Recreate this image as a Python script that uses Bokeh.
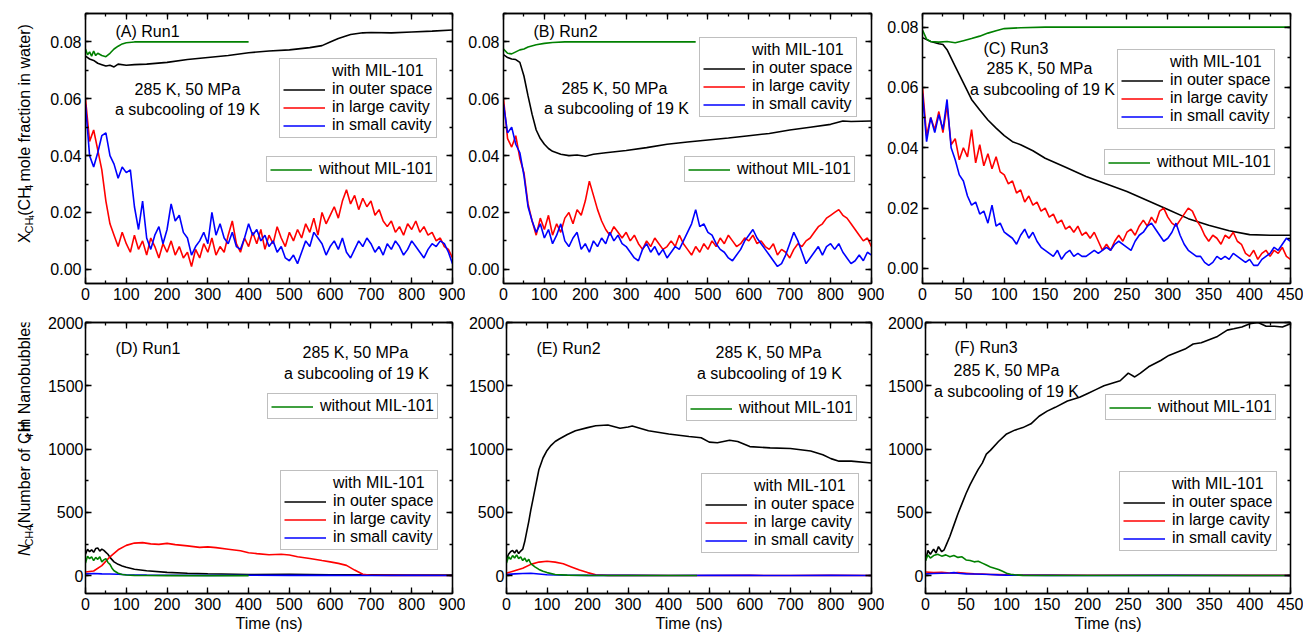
import math
from bokeh.plotting import figure
from bokeh.models import (Range1d, LinearAxis, SingleIntervalTicker, Legend, LegendItem,
                          Label, PrintfTickFormatter, CustomJSTickFormatter)
from bokeh.core.properties import value
from bokeh.layouts import row, column
from bokeh.embed import file_html
from bokeh.resources import INLINE

FONT = "Liberation Sans"
FS = "16px"
BLACK, RED, BLUE, GREEN = "#000000", "#ff0000", "#0000ff", "#008000"
LW = 1.6

# ---------------- data: top row, CH4 mole fraction in water ----------------
t10_900 = list(range(0, 901, 10))
t5_450 = list(range(0, 451, 5))

a_red = [0.060, 0.045, 0.049, 0.042, 0.035, 0.024, 0.016, 0.012, 0.008, 0.013,
         0.009, 0.006, 0.012, 0.007, 0.010, 0.005, 0.011, 0.008, 0.004, 0.009,
         0.006, 0.010, 0.005, 0.008, 0.004, 0.006, 0.001, 0.007, 0.004, 0.009,
         0.006, 0.011, 0.005, 0.008, 0.006, 0.012, 0.017, 0.009, 0.006, 0.011,
         0.008, 0.013, 0.009, 0.014, 0.007, 0.012, 0.009, 0.015, 0.011, 0.008,
         0.013, 0.010, 0.014, 0.011, 0.016, 0.013, 0.018, 0.012, 0.020, 0.016,
         0.019, 0.022, 0.018, 0.024, 0.028, 0.023, 0.026, 0.021, 0.025, 0.022,
         0.024, 0.019, 0.021, 0.017, 0.015, 0.017, 0.013, 0.015, 0.012, 0.016,
         0.014, 0.017, 0.013, 0.015, 0.012, 0.013, 0.010, 0.011, 0.008, 0.007,
         0.004]
a_blue = [0.058, 0.040, 0.036, 0.041, 0.047, 0.048, 0.040, 0.037, 0.032, 0.036,
          0.034, 0.035, 0.022, 0.014, 0.024, 0.011, 0.007, 0.012, 0.015, 0.009,
          0.014, 0.023, 0.017, 0.019, 0.013, 0.011, 0.005, 0.008, 0.010, 0.013,
          0.009, 0.020, 0.012, 0.016, 0.011, 0.009, 0.013, 0.008, 0.007, 0.011,
          0.016, 0.012, 0.014, 0.010, 0.012, 0.008, 0.010, 0.006, 0.008, 0.004,
          0.003, 0.005, 0.002, 0.006, 0.010, 0.008, 0.013, 0.011, 0.009, 0.005,
          0.008, 0.010, 0.007, 0.011, 0.006, 0.004, 0.007, 0.010, 0.008, 0.011,
          0.009, 0.006, 0.008, 0.005, 0.009, 0.007, 0.010, 0.008, 0.005, 0.007,
          0.010, 0.008, 0.006, 0.004, 0.007, 0.009, 0.008, 0.010, 0.009, 0.006,
          0.002]
a_black_t = [0, 10, 20, 30, 40, 50, 60, 70, 80, 100, 120, 150, 200, 250, 300, 350,
             400, 450, 500, 550, 580, 600, 620, 650, 680, 700, 750, 800, 850, 900]
a_black = [0.0750, 0.0740, 0.0735, 0.0725, 0.0720, 0.0715, 0.0718, 0.0712, 0.0722,
           0.0718, 0.0720, 0.0722, 0.0728, 0.0738, 0.0745, 0.0752, 0.0762, 0.0768,
           0.0772, 0.0780, 0.0787, 0.0800, 0.0812, 0.0826, 0.0832, 0.0833, 0.0832,
           0.0835, 0.0838, 0.0842]
a_green_t = [0, 5, 10, 15, 20, 25, 30, 40, 50, 60, 70, 80, 90, 100, 120, 150, 200,
             250, 300, 350, 400]
a_green = [0.0775, 0.0755, 0.0765, 0.0750, 0.0768, 0.0752, 0.0760, 0.0752, 0.0748,
           0.0760, 0.0775, 0.0785, 0.0793, 0.0797, 0.0800, 0.0800, 0.0800, 0.0800,
           0.0800, 0.0800, 0.0800]

b_red = [0.060, 0.046, 0.043, 0.047, 0.039, 0.034, 0.023, 0.017, 0.012, 0.018,
         0.014, 0.019, 0.012, 0.016, 0.013, 0.018, 0.020, 0.016, 0.021, 0.019,
         0.024, 0.031, 0.026, 0.021, 0.017, 0.014, 0.012, 0.015, 0.013, 0.011,
         0.013, 0.010, 0.012, 0.009, 0.007, 0.010, 0.008, 0.011, 0.009, 0.007,
         0.008, 0.010, 0.008, 0.012, 0.009, 0.007, 0.005, 0.008, 0.006, 0.009,
         0.007, 0.010, 0.008, 0.011, 0.009, 0.012, 0.010, 0.008, 0.009, 0.011,
         0.010, 0.012, 0.009, 0.010, 0.008, 0.007, 0.009, 0.005, 0.007, 0.006,
         0.004, 0.007, 0.009, 0.008, 0.010, 0.011, 0.013, 0.015, 0.016, 0.018,
         0.019, 0.020, 0.021, 0.019, 0.018, 0.016, 0.014, 0.012, 0.010, 0.011,
         0.008]
b_blue = [0.058, 0.048, 0.050, 0.044, 0.041, 0.033, 0.022, 0.017, 0.013, 0.016,
          0.011, 0.014, 0.009, 0.012, 0.016, 0.010, 0.008, 0.011, 0.013, 0.007,
          0.009, 0.006, 0.010, 0.008, 0.011, 0.009, 0.013, 0.010, 0.012, 0.009,
          0.008, 0.006, 0.004, 0.003, 0.007, 0.009, 0.006, 0.008, 0.005, 0.007,
          0.004, 0.006, 0.008, 0.007, 0.010, 0.013, 0.016, 0.021, 0.015, 0.016,
          0.013, 0.012, 0.009, 0.007, 0.006, 0.004, 0.003, 0.005, 0.007, 0.010,
          0.012, 0.014, 0.011, 0.009, 0.007, 0.005, 0.003, 0.001, 0.002, 0.005,
          0.009, 0.013, 0.010, 0.006, 0.002, 0.004, 0.006, 0.008, 0.005, 0.008,
          0.009, 0.007, 0.009, 0.006, 0.004, 0.002, 0.003, 0.005, 0.003, 0.006,
          0.005]
b_black_t = [0, 10, 20, 30, 40, 50, 60, 70, 80, 90, 100, 110, 120, 140, 160, 180,
             200, 220, 250, 300, 350, 400, 450, 500, 550, 600, 650, 700, 750, 800,
             830, 850, 900]
b_black = [0.0755, 0.0745, 0.0740, 0.0738, 0.0728, 0.0680, 0.0610, 0.0545, 0.0490,
           0.0460, 0.0440, 0.0425, 0.0415, 0.0405, 0.0400, 0.0402, 0.0398, 0.0405,
           0.0410, 0.0418, 0.0428, 0.0440, 0.0448, 0.0455, 0.0462, 0.0470, 0.0478,
           0.0490, 0.0500, 0.0510, 0.0522, 0.0520, 0.0522]
b_green_t = [0, 10, 20, 30, 40, 50, 60, 80, 100, 120, 150, 200, 250, 300, 350, 400, 470]
b_green = [0.0775, 0.0760, 0.0758, 0.0765, 0.0772, 0.0775, 0.0782, 0.0790, 0.0795,
           0.0798, 0.0800, 0.0800, 0.0800, 0.0800, 0.0800, 0.0800, 0.0800]

c_red = [0.060, 0.044, 0.050, 0.046, 0.052, 0.045, 0.054, 0.041, 0.043, 0.036,
         0.040, 0.037, 0.046, 0.035, 0.041, 0.034, 0.038, 0.033, 0.037, 0.032,
         0.031, 0.028, 0.029, 0.025, 0.026, 0.022, 0.024, 0.021, 0.022, 0.019,
         0.020, 0.017, 0.018, 0.015, 0.016, 0.013, 0.014, 0.012, 0.014, 0.011,
         0.012, 0.010, 0.012, 0.009, 0.006, 0.008, 0.006, 0.009, 0.011, 0.009,
         0.012, 0.013, 0.011, 0.014, 0.016, 0.014, 0.017, 0.015, 0.019, 0.020,
         0.017, 0.015, 0.014, 0.016, 0.018, 0.020, 0.019, 0.016, 0.014, 0.011,
         0.009, 0.011, 0.010, 0.008, 0.011, 0.010, 0.012, 0.009, 0.008, 0.005,
         0.004, 0.006, 0.003, 0.005, 0.006, 0.004, 0.006, 0.005, 0.007, 0.004,
         0.003]
c_blue = [0.058, 0.042, 0.050, 0.045, 0.051, 0.046, 0.056, 0.040, 0.036, 0.031,
          0.029, 0.024, 0.021, 0.022, 0.018, 0.019, 0.015, 0.021, 0.014, 0.015,
          0.012, 0.011, 0.010, 0.008, 0.011, 0.013, 0.010, 0.012, 0.009, 0.007,
          0.006, 0.005, 0.004, 0.006, 0.003, 0.005, 0.006, 0.004, 0.005, 0.004,
          0.004, 0.005, 0.006, 0.005, 0.006, 0.007, 0.006, 0.008, 0.009, 0.008,
          0.007, 0.006, 0.009, 0.011, 0.012, 0.014, 0.015, 0.013, 0.011, 0.009,
          0.010, 0.012, 0.015, 0.011, 0.008, 0.006, 0.005, 0.004, 0.004, 0.002,
          0.001, 0.002, 0.004, 0.003, 0.004, 0.003, 0.005, 0.004, 0.003, 0.002,
          0.003, 0.001, 0.001, 0.003, 0.004, 0.005, 0.007, 0.006, 0.008, 0.010,
          0.009]
c_black_t = [0, 10, 20, 25, 30, 40, 50, 60, 70, 80, 90, 100, 110, 120, 135, 150, 175,
             200, 225, 250, 275, 300, 325, 350, 375, 400, 425, 450]
c_black = [0.0765, 0.0752, 0.0745, 0.0742, 0.0725, 0.0670, 0.0615, 0.0560, 0.0525,
           0.0492, 0.0465, 0.0440, 0.0420, 0.0410, 0.0390, 0.0365, 0.0335, 0.0305,
           0.0280, 0.0255, 0.0225, 0.0195, 0.0165, 0.0143, 0.0125, 0.0112, 0.0110,
           0.0110]
c_green_t = [0, 5, 10, 20, 30, 40, 50, 60, 70, 80, 90, 100, 120, 150, 200, 250, 300,
             350, 400, 450]
c_green = [0.0790, 0.0760, 0.0752, 0.0750, 0.0752, 0.0748, 0.0755, 0.0762, 0.0770,
           0.0780, 0.0788, 0.0795, 0.0798, 0.0800, 0.0800, 0.0800, 0.0800, 0.0800,
           0.0800, 0.0800]

# ---------------- data: bottom row, number of CH4 in nanobubbles ----------------
d_black_t = [0, 5, 10, 15, 20, 25, 30, 35, 40, 45, 50, 55, 60, 70, 80, 90, 100, 120,
             150, 200, 250, 300, 400, 500, 600, 700, 800, 900]
d_black = [170, 210, 190, 205, 185, 215, 220, 195, 210, 200, 185, 170, 145, 110, 90,
           78, 68, 52, 40, 27, 20, 16, 10, 12, 8, 7, 6, 5]
d_red_t = [0, 20, 40, 60, 80, 100, 120, 140, 160, 180, 200, 220, 250, 280, 300, 320,
           350, 380, 400, 420, 450, 480, 500, 520, 550, 580, 600, 620, 640, 660, 680,
           700, 750, 800, 900]
d_red = [30, 38, 80, 150, 205, 240, 258, 262, 252, 248, 256, 246, 236, 224, 228, 222,
         210, 198, 182, 175, 166, 170, 164, 150, 136, 120, 110, 98, 82, 45, 12, 4, 3,
         3, 2]
d_green_t = [0, 5, 10, 15, 20, 25, 30, 35, 40, 45, 50, 55, 60, 65, 70, 80, 90, 100,
             120, 150, 200, 300, 400]
d_green = [100, 155, 135, 150, 120, 145, 130, 150, 110, 125, 135, 105, 90, 60, 40, 20,
           10, 6, 3, 2, 1, 1, 1]
d_blue_t = [0, 20, 40, 60, 80, 100, 150, 200, 300, 400, 500, 600, 700, 800, 900]
d_blue = [15, 18, 15, 14, 12, 8, 5, 4, 3, 4, 3, 3, 2, 3, 2]

e_black_t = [0, 5, 10, 15, 20, 25, 30, 35, 40, 45, 50, 55, 60, 65, 70, 75, 80, 90,
             100, 110, 120, 130, 150, 170, 200, 220, 250, 280, 300, 310, 350, 400,
             450, 480, 500, 520, 550, 570, 600, 650, 700, 750, 780, 800, 820, 850, 900]
e_black = [130, 170, 190, 200, 180, 205, 175, 195, 210, 270, 350, 430, 520, 600, 680,
           760, 840, 930, 990, 1030, 1060, 1080, 1115, 1145, 1170, 1185, 1190, 1165,
           1175, 1182, 1145, 1120, 1100, 1090, 1055, 1050, 1070, 1060, 1020, 1010,
           1005, 985, 955, 925, 905, 905, 890]
e_red_t = [0, 20, 40, 60, 80, 100, 120, 140, 160, 180, 200, 220, 250, 300, 400, 500,
           600, 700, 800, 900]
e_red = [20, 40, 60, 90, 108, 115, 108, 95, 70, 45, 25, 8, 3, 3, 2, 2, 3, 2, 3, 2]
e_green_t = [0, 5, 10, 15, 20, 25, 30, 35, 40, 45, 50, 55, 60, 70, 80, 90, 100, 120,
             150, 200, 300, 400, 470]
e_green = [100, 150, 130, 160, 140, 165, 135, 150, 120, 140, 110, 130, 95, 70, 50, 35,
           25, 10, 5, 3, 2, 2, 2]
e_blue_t = [0, 20, 40, 60, 80, 100, 150, 200, 300, 400, 500, 600, 700, 800, 900]
e_blue = [10, 15, 18, 20, 14, 8, 4, 3, 3, 2, 4, 3, 2, 3, 2]

f_black_t = [0, 3, 6, 10, 13, 16, 20, 23, 26, 30, 35, 40, 45, 50, 55, 60, 65, 70, 75,
             80, 90, 100, 110, 120, 130, 140, 150, 160, 175, 190, 200, 210, 220, 240,
             250, 258, 265, 275, 290, 300, 320, 330, 340, 360, 372, 380, 390, 400,
             410, 420, 430, 440, 450]
f_black = [120, 200, 170, 210, 180, 230, 190, 205, 250, 310, 400, 490, 570, 650, 720,
           780, 840, 890, 960, 990, 1060, 1120, 1150, 1170, 1200, 1260, 1300, 1330,
           1380, 1410, 1440, 1470, 1500, 1540, 1600, 1570, 1600, 1650, 1700, 1740,
           1790, 1830, 1840, 1890, 1940, 1950, 1965, 1990, 2000, 1970, 1970, 1965,
           1990]
f_green_t = [0, 3, 6, 10, 15, 20, 25, 30, 35, 40, 45, 50, 55, 60, 65, 70, 75, 80, 85,
             90, 95, 100, 105, 110, 120, 150, 200, 300, 450]
f_green = [120, 165, 140, 160, 170, 155, 165, 150, 160, 145, 150, 125, 120, 110, 115,
           100, 85, 70, 60, 50, 35, 20, 12, 8, 3, 2, 2, 2, 2]
f_red_t = [0, 10, 20, 30, 40, 50, 60, 70, 80, 90, 100, 110, 150, 200, 300, 400, 450]
f_red = [30, 25, 28, 22, 25, 20, 15, 14, 10, 9, 8, 6, 5, 4, 4, 3, 3]
f_blue_t = [0, 10, 20, 30, 35, 40, 50, 60, 70, 80, 90, 100, 150, 200, 300, 400, 450]
f_blue = [15, 18, 20, 22, 25, 20, 15, 14, 12, 10, 7, 5, 3, 2, 3, 2, 2]

panel_titles = ["(A) Run1", "(B) Run2", "(C) Run3", "(D) Run1", "(E) Run2", "(F) Run3"]
cond1 = "285 K, 50 MPa"
cond2 = "a subcooling of 19 K"
leg_head = "with MIL-101"
leg_labels = ["in outer space", "in large cavity", "in small cavity"]
leg_without = "without MIL-101"

# ---------------- helpers ----------------
AW = {' ': 278, '(': 333, ')': 333, '-': 333, '0': 556, '1': 556, '4': 556, 'C': 722,
      'H': 722, 'N': 722, 'X': 667, 'a': 556, 'b': 556, 'c': 500, 'e': 556, 'f': 278,
      'i': 222, 'l': 222, 'm': 833, 'n': 556, 'o': 556, 'r': 333, 's': 500, 't': 278,
      'u': 556, 'w': 722}


def tw(s, size):
    return sum(AW.get(ch, 556) for ch in s) * size / 1000.0


def style_axis(ax, ticker, fmt=None, label=None, standoff=4):
    ax.ticker = ticker
    ax.major_tick_in = 6
    ax.major_tick_out = 0
    ax.minor_tick_in = 3
    ax.minor_tick_out = 0
    ax.axis_line_width = 1.3
    ax.major_tick_line_width = 1.3
    ax.minor_tick_line_width = 1.3
    ax.axis_line_color = "black"
    ax.major_tick_line_color = "black"
    ax.minor_tick_line_color = "black"
    if fmt is not None:
        ax.formatter = fmt
        ax.major_label_text_font = FONT
        ax.major_label_text_font_size = FS
        ax.major_label_text_color = "black"
        ax.major_label_standoff = standoff
    else:
        ax.formatter = CustomJSTickFormatter(code="return ''")
        ax.major_label_text_font_size = "0px"
        ax.major_label_standoff = 0
    if label:
        ax.axis_label = label
        ax.axis_label_text_font = FONT
        ax.axis_label_text_font_size = FS
        ax.axis_label_text_font_style = "normal"
        ax.axis_label_text_color = "black"
        ax.axis_label_standoff = 2


def make_fig(width, height, bl, br, bt, bb, xr, yr, xint, yint, yfmt, xlabel=None,
             ystand=4):
    p = figure(width=width, height=height, x_range=Range1d(*xr), y_range=Range1d(*yr),
               output_backend="svg", toolbar_location=None,
               min_border_left=bl, min_border_right=br, min_border_top=bt,
               min_border_bottom=bb)
    p.xgrid.visible = False
    p.ygrid.visible = False
    p.outline_line_color = "black"
    p.outline_line_width = 1.3
    p.background_fill_color = "white"
    p.border_fill_color = "white"
    xt = SingleIntervalTicker(interval=xint, num_minor_ticks=2)
    yt = SingleIntervalTicker(interval=yint, num_minor_ticks=2)
    style_axis(p.below[0], xt, PrintfTickFormatter(format="%d"), xlabel)
    style_axis(p.left[0], yt, PrintfTickFormatter(format=yfmt), standoff=ystand)
    top = LinearAxis()
    style_axis(top, xt)
    right = LinearAxis()
    style_axis(right, yt)
    p.add_layout(top, "above")
    p.add_layout(right, "right")
    return p


def add_lines(p, series):
    rs = {}
    for key, xs, ys, col in series:
        rs[key] = p.line(xs, ys, line_color=col, line_width=LW)
    return rs


def add_text(p, text, x, y, align):
    p.add_layout(Label(x=x, y=y, x_units="screen", y_units="screen", text=text,
                       text_align=align, text_baseline="middle", text_font=FONT,
                       text_font_size=FS, text_color="black"))


LEG_KW = dict(padding=3, spacing=0, margin=0, glyph_width=42, glyph_height=17,
              label_height=17, label_standoff=7, label_text_font=FONT,
              label_text_font_size=FS, label_text_color="black",
              border_line_color="#808080", border_line_width=1,
              background_fill_color="white", background_fill_alpha=1.0)


def add_legends(p, rs, loc_with, loc_without):
    dummy = p.line([], [], line_alpha=0)
    items = [LegendItem(label=leg_head, renderers=[dummy]),
             LegendItem(label=leg_labels[0], renderers=[rs["k"]]),
             LegendItem(label=leg_labels[1], renderers=[rs["r"]]),
             LegendItem(label=leg_labels[2], renderers=[rs["b"]])]
    p.add_layout(Legend(items=items, location=loc_with, **LEG_KW))
    p.add_layout(Legend(items=[LegendItem(label=leg_without, renderers=[rs["g"]])],
                        location=loc_without, **LEG_KW))


def label_fig(height, pieces, x0, yc, width):
    q = figure(width=width, height=height, x_range=Range1d(0, width),
               y_range=Range1d(0, height), output_backend="svg", toolbar_location=None,
               x_axis_type=None, y_axis_type=None, min_border=0)
    q.xgrid.visible = False
    q.ygrid.visible = False
    q.outline_line_color = None
    q.background_fill_color = "white"
    q.border_fill_color = "white"
    total = sum(tw(t, s) for t, s, _, _ in pieces)
    y = yc - total / 2.0
    for t, s, dx, it in pieces:
        lead = tw(" ", s) if t.startswith(" ") else 0
        q.text(x=[x0 + dx], y=[y + lead], text=[t.lstrip(" ")], angle=math.pi / 2,
               text_align="left", text_baseline="alphabetic",
               text_font=value(FONT), text_font_size=value(f"{s}px"),
               text_color="black", text_font_style="italic" if it else "normal")
        y += tw(t, s)
    return q


# ---------------- layout ----------------
TOP_H, BOT_H = 308, 329
LBL_W = 40
YR_TOP = (-0.005, 0.09)
YR_TOPC = (-0.005, 0.0845)
YR_BOT = (-140, 2000)

pA = make_fig(425, TOP_H, 45, 13, 13, 25, (0, 900), YR_TOP, 100, 0.02, "%.2f")
pB = make_fig(419, TOP_H, 38, 13, 13, 25, (0, 900), YR_TOP, 100, 0.02, "%.2f")
pC = make_fig(419, TOP_H, 38, 13, 13, 25, (0, 450), YR_TOPC, 50, 0.02, "%.2f")
pD = make_fig(425, BOT_H, 45, 13, 14, 44, (0, 900), YR_BOT, 100, 500, "%d", "Time (ns)", 2)
pE = make_fig(419, BOT_H, 38, 13, 14, 44, (0, 900), YR_BOT, 100, 500, "%d", "Time (ns)", 2)
pF = make_fig(419, BOT_H, 38, 13, 14, 44, (0, 450), YR_BOT, 50, 500, "%d", "Time (ns)", 2)

rA = add_lines(pA, [("k", a_black_t, a_black, BLACK), ("r", t10_900, a_red, RED),
                    ("b", t10_900, a_blue, BLUE), ("g", a_green_t, a_green, GREEN)])
rB = add_lines(pB, [("k", b_black_t, b_black, BLACK), ("r", t10_900, b_red, RED),
                    ("b", t10_900, b_blue, BLUE), ("g", b_green_t, b_green, GREEN)])
rC = add_lines(pC, [("k", c_black_t, c_black, BLACK), ("r", t5_450, c_red, RED),
                    ("b", t5_450, c_blue, BLUE), ("g", c_green_t, c_green, GREEN)])
rD = add_lines(pD, [("k", d_black_t, d_black, BLACK), ("r", d_red_t, d_red, RED),
                    ("b", d_blue_t, d_blue, BLUE), ("g", d_green_t, d_green, GREEN)])
rE = add_lines(pE, [("k", e_black_t, e_black, BLACK), ("r", e_red_t, e_red, RED),
                    ("b", e_blue_t, e_blue, BLUE), ("g", e_green_t, e_green, GREEN)])
rF = add_lines(pF, [("k", f_black_t, f_black, BLACK), ("r", f_red_t, f_red, RED),
                    ("b", f_blue_t, f_blue, BLUE), ("g", f_green_t, f_green, GREEN)])

add_text(pA, panel_titles[0], 30, 252, "left")
add_text(pA, cond1, 102, 194, "center")
add_text(pA, cond2, 102, 174, "center")
add_text(pB, panel_titles[1], 30, 252, "left")
add_text(pB, cond1, 111, 195, "center")
add_text(pB, cond2, 113, 175, "center")
add_text(pC, panel_titles[2], 61, 235, "left")
add_text(pC, cond1, 117, 215, "center")
add_text(pC, cond2, 120, 194, "center")
add_text(pD, panel_titles[3], 30, 245, "left")
add_text(pD, cond1, 270, 241, "center")
add_text(pD, cond2, 271, 220, "center")
add_text(pE, panel_titles[4], 30, 245, "left")
add_text(pE, cond1, 262, 241, "center")
add_text(pE, cond2, 263, 220, "center")
add_text(pF, panel_titles[5], 29, 246, "left")
add_text(pF, cond1, 81, 223, "center")
add_text(pF, cond2, 81, 202, "center")

add_legends(pA, rA, (194, 145), (181, 101))
add_legends(pB, rB, (196, 166), (181, 101))
add_legends(pC, rC, (195, 154), (182, 108))
add_legends(pD, rD, (195, 43), (182, 174))
add_legends(pE, rE, (195, 40), (180, 172))
add_legends(pF, rF, (194, 42), (180, 173))

yl_top = label_fig(TOP_H, [("X", 16, 0, False), ("CH", 11, 4, False), ("4", 8, 7, False),
                           ("(CH", 16, 0, False), ("4", 11, 4, False),
                           (" mole fraction in water)", 16, 0, False)], 24, TOP_H - 148,
                   LBL_W)
yl_bot = label_fig(BOT_H, [("N", 16, 0, True), ("CH4", 11, 4, False),
                           ("(Number of CH", 16, 0, False), ("4", 11, 4, False),
                           (" in Nanobubbles)", 16, 0, False)], 24, BOT_H - 149.5,
                   LBL_W)

layout = column(row(yl_top, pA, pB, pC), row(yl_bot, pD, pE, pF))
open("out.html", "w").write(file_html(layout, INLINE))
